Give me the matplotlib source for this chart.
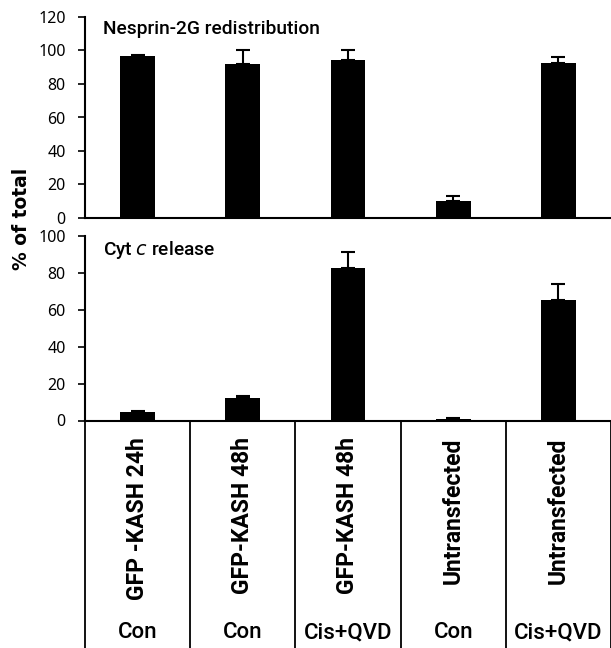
import matplotlib
matplotlib.use("Agg")
import matplotlib.pyplot as plt

groups = ["GFP -KASH 24h", "GFP-KASH 48h", "GFP-KASH 48h", "Untransfected", "Untransfected"]
treatments = ["Con", "Con", "Cis+QVD", "Con", "Cis+QVD"]

nesprin_vals = [96.5, 91.7, 94.5, 10.0, 92.7]
nesprin_err = [0.8, 8.3, 5.5, 3.0, 3.6]

cytc_vals = [4.7, 12.4, 82.5, 0.9, 65.0]
cytc_err = [0.7, 0.9, 8.6, 0.3, 8.7]

top_ticks = [0, 20, 40, 60, 80, 100, 120]
bot_ticks = [0, 20, 40, 60, 80, 100]

W, H = 611, 648
fig = plt.figure(figsize=(W / 100, H / 100), dpi=100)

left = 85 / W
right = 1.0
ax1 = fig.add_axes([left, 1 - 218 / H, right - left, (218 - 17) / H])
ax2 = fig.add_axes([left, 1 - 420.5 / H, right - left, (420.5 - 235.5) / H])
ax3 = fig.add_axes([left, 0, right - left, 1 - 420.5 / H])

FONT = "Roboto"
tickfont = dict(family="Noto Sans", size=11.5)
x = list(range(len(groups)))
bw = 0.33

for ax, vals, errs, ticks, lim in [
    (ax1, nesprin_vals, nesprin_err, top_ticks, 120),
    (ax2, cytc_vals, cytc_err, bot_ticks, 100),
]:
    ax.bar(x, vals, width=bw, color="black", zorder=2)
    ax.errorbar(x, vals, yerr=[[0] * len(errs), errs], fmt="none", ecolor="black",
                elinewidth=1.5, capsize=5, capthick=1.5, zorder=3)
    ax.set_xlim(-0.5, len(groups) - 0.5)
    ax.set_ylim(0, lim)
    ax.set_yticks(ticks)
    ax.set_yticklabels([str(t) for t in ticks], **tickfont)
    ax.set_xticks([])
    for s in ["top", "right"]:
        ax.spines[s].set_visible(False)
    ax.spines["left"].set_linewidth(1.5)
    ax.spines["bottom"].set_linewidth(1.5)
    ax.tick_params(axis="y", direction="out", length=5, width=1.2, pad=9, colors="black")
    ax.patch.set_alpha(0)

fig.text(103 / W, 1 - 29 / H, "Nesprin-2G redistribution", fontsize=13.8,
         family=FONT, fontweight="medium", va="center", ha="left")
fig.text(103 / W, 1 - 250 / H, "Cyt $\\it{c}$ release", fontsize=13.8,
         family=FONT, fontweight="medium", va="center", ha="left")

fig.text(22 / W, 1 - 219 / H, "% of total", rotation=90, fontsize=13.5,
         fontweight="bold", family="DejaVu Sans", ha="center", va="center")

ax3.set_xlim(-0.5, len(groups) - 0.5)
ax3.set_ylim(0, 1)
ax3.axis("off")
for b in range(len(groups) + 1):
    ax3.plot([b - 0.5, b - 0.5], [0, 1], color="black", lw=1.3, clip_on=False)
for i, (g, t) in enumerate(zip(groups, treatments)):
    ax3.text(i, 1 - 17 / (H - 420.5), g, rotation=90, ha="center", va="top",
             fontsize=16.5, fontweight="bold", family=FONT)
    ax3.text(i, (H - 633) / (H - 420.5), t, ha="center", va="center",
             fontsize=16, family=FONT, fontweight="medium")

fig.savefig("out.png", dpi=100)
